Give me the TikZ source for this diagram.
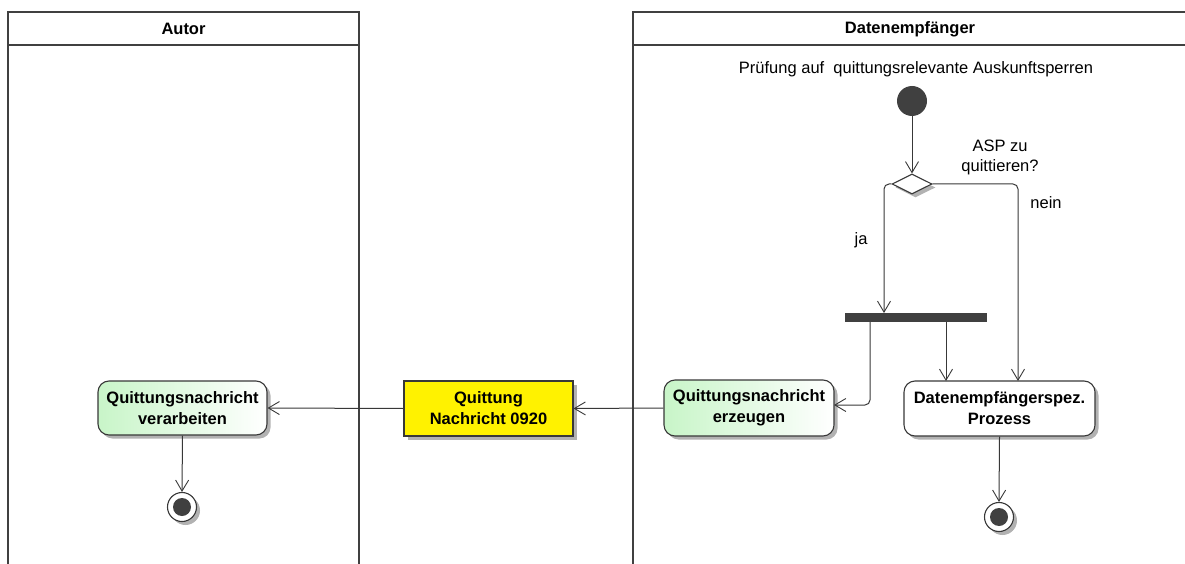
\documentclass[tikz,border=0pt]{standalone}
\usepackage{fontspec}
\setmainfont{Liberation Sans}
\usetikzlibrary{arrows.meta,shapes.geometric,shadows,calc}
\definecolor{ln}{HTML}{383838}
\definecolor{dk}{HTML}{404040}
\definecolor{gr}{HTML}{C8F5C8}
\begin{document}
\begin{tikzpicture}[x=1pt,y=-1pt,
  font=\fontsize{16.5}{21}\selectfont,
  lane/.style={draw=dk,line width=2pt},
  shad/.style={drop shadow={shadow xshift=3.5pt,shadow yshift=-3.5pt,fill=black!30,opacity=1}},
  act/.style={draw=ln,line width=1.1pt,rounded corners=11pt,align=center,font=\fontsize{16.5}{21}\selectfont\bfseries,shad,inner sep=0pt},
  green/.style={act,left color=gr,right color=white},
  obj/.style={draw=ln,line width=1.1pt,fill=yellow,align=center,font=\fontsize{16.5}{21}\selectfont\bfseries,shad,inner sep=0pt},
  flow/.style={draw=ln,line width=1pt,-{Straight Barb[length=11pt,width=13pt,line width=0.9pt]}},
  lbl/.style={font=\fontsize{16.5}{20}\selectfont,align=center,inner sep=0pt}
]
\useasboundingbox (0,0) rectangle (1185,564);
% lanes
\draw[lane] (8,564) -- (8,12) -- (359,12) -- (359,564);
\draw[lane] (8,45) -- (359,45);
\node[lbl,font=\fontsize{16.5}{20}\selectfont\bfseries] (hA) at (183.5,29) {Autor};
\draw[lane] (633,564) -- (633,12) -- (1186,12);
\draw[lane] (633,45) -- (1186,45);
\node[lbl,font=\fontsize{16.5}{20}\selectfont\bfseries] (hD) at (910,29) {Datenempfänger};
% title
\node[lbl] (title) at (916,69) {Prüfung auf\ \ quittungsrelevante Auskunftsperren};
% start
\node[circle,fill=dk,minimum size=30pt,inner sep=0pt] (start) at (912,101) {};
% decision
\node[diamond,draw=ln,fill=white,line width=1.1pt,minimum width=40pt,minimum height=20pt,inner sep=0pt,shad] (dec) at (912,184) {};
\node[lbl] (asp) at (1000,157) {ASP zu\\quittieren?};
% fork
\node[fill=dk,minimum width=142pt,minimum height=9pt,inner sep=0pt] (fork) at (916,317.5) {};
% activities
\node[green,minimum width=170pt,minimum height=56pt] (erz) at (749,408) {Quittungsnachricht\\erzeugen};
\node[act,fill=white,minimum width=191pt,minimum height=55pt] (proz) at (999.5,408.5) {Datenempfängerspez.\\Prozess};
\node[obj,minimum width=169pt,minimum height=55pt] (quit) at (488.5,408.5) {Quittung\\Nachricht 0920};
\node[green,minimum width=169pt,minimum height=54pt] (verarb) at (182.5,408) {Quittungsnachricht\\verarbeiten};
% end nodes
\node[circle,draw=ln,fill=white,line width=1.1pt,minimum size=29pt,inner sep=0pt,shad] (endA) at (182,507) {};
\node[circle,fill=dk,minimum size=18pt,inner sep=0pt] (endAi) at (endA) {};
\node[circle,draw=ln,fill=white,line width=1.1pt,minimum size=29pt,inner sep=0pt,shad] (endD) at (999,517) {};
\node[circle,fill=dk,minimum size=18pt,inner sep=0pt] (endDi) at (endD) {};
% coordinates
\coordinate (forkIn) at (884,313);
\coordinate (forkOutA) at (870,322);
\coordinate (forkOutB) at (946,322);
\coordinate (prozInA) at (946,381);
\coordinate (prozInB) at (1018,381);
\coordinate (erzIn) at (834,405);
% connectors
\draw[flow] (start) -- (dec.north);
\draw[flow,rounded corners=5pt] (dec.west) -| (forkIn);
\node[lbl] (ja) at (861,240) {ja};
\draw[flow,rounded corners=5pt] (dec.east) -| (prozInB);
\node[lbl] (nein) at (1046,203) {nein};
\draw[flow,rounded corners=5pt] (forkOutA) |- (erzIn);
\draw[flow] (forkOutB) -- (prozInA);
\draw[flow] (erz.west) -- (quit.east);
\draw[flow] (quit.west) -- (verarb.east);
\draw[flow] (verarb.south) -- (endA.north);
\draw[flow] (proz.south) -- (endD.north);
\end{tikzpicture}
\end{document}
